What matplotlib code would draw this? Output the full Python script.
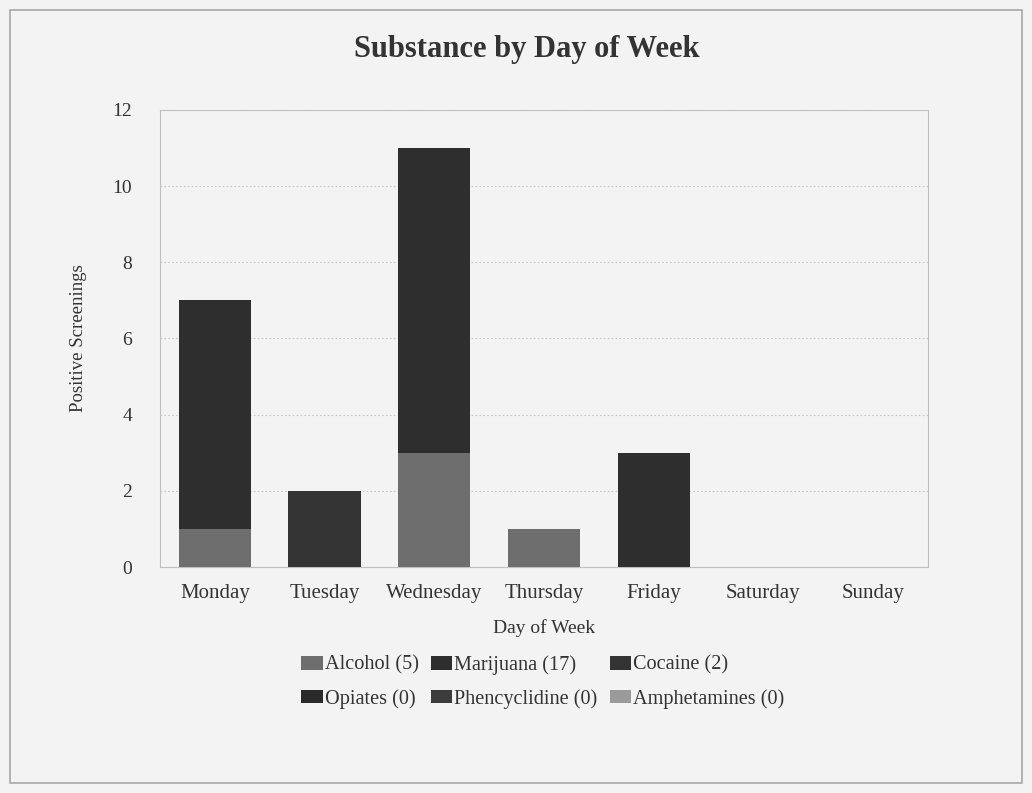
import matplotlib
matplotlib.use("Agg")
import matplotlib.pyplot as plt
from matplotlib.patches import Rectangle
import numpy as np

days = ["Monday", "Tuesday", "Wednesday", "Thursday", "Friday", "Saturday", "Sunday"]
series_names = ["Alcohol (5)", "Marijuana (17)", "Cocaine (2)",
                "Opiates (0)", "Phencyclidine (0)", "Amphetamines (0)"]
alcohol = [1, 0, 3, 1, 0, 0, 0]
marijuana = [6, 0, 8, 0, 3, 0, 0]
cocaine = [0, 2, 0, 0, 0, 0, 0]
opiates = [0, 0, 0, 0, 0, 0, 0]
phencyclidine = [0, 0, 0, 0, 0, 0, 0]
amphetamines = [0, 0, 0, 0, 0, 0, 0]
colors = ["#6e6e6e", "#2e2e2e", "#333333", "#2a2a2a", "#3c3c3c", "#9a9a9a"]
yticks = [0, 2, 4, 6, 8, 10, 12]

plt.rcParams['font.family'] = ['Liberation Serif', 'DejaVu Serif']
bg = "#f3f3f3"
fig = plt.figure(figsize=(10.32, 7.93), dpi=100, facecolor=bg)
fig.patches.append(Rectangle((10/1032, 1-783/793), 1012/1032, 773/793, transform=fig.transFigure,
                             fill=False, edgecolor="#a8a8a8", linewidth=1.2))
ax = fig.add_axes([160/1032, 1-567/793, 768/1032, 457/793])
ax.set_facecolor(bg)

x = np.arange(len(days))
bottom = np.zeros(len(days))
all_series = [alcohol, marijuana, cocaine, opiates, phencyclidine, amphetamines]
handles = []
for name, vals, c in zip(series_names, all_series, colors):
    h = ax.bar(x, vals, bottom=bottom, width=0.66, color=c, label=name, zorder=3)
    handles.append(h)
    bottom += np.array(vals)

ax.set_xlim(-0.5, len(days) - 0.5)
ax.set_ylim(0, 12)
ax.set_yticks(yticks)
ax.set_xticks(x)
ax.set_xticklabels(days, fontsize=15)
ax.tick_params(axis='y', labelsize=14)
ax.tick_params(length=0, colors="#333333")
ax.tick_params(axis='x', pad=12)
ax.tick_params(axis='y', pad=20)
ax.grid(axis='y', color="#c8c8c8", linestyle=(0, (1.5, 2)), linewidth=0.8, zorder=0)
for s in ax.spines.values():
    s.set_color("#c0c0c0")
    s.set_linewidth(0.8)
ax.set_xlabel("Day of Week", fontsize=14, color="#333333", labelpad=12)
ax.set_ylabel("Positive Screenings", fontsize=13.5, color="#333333", labelpad=18)
fig.text(0.51, 1-50/793, "Substance by Day of Week", ha="center", va="center",
         fontsize=22, fontweight="bold", color="#333333")
order = [0, 3, 1, 4, 2, 5]
leg = fig.legend([handles[i] for i in order], [series_names[i] for i in order],
                 loc="center", bbox_to_anchor=(0.526, 1-682/793), ncol=3, frameon=False,
                 fontsize=14.6, handlelength=1.05, handleheight=0.65, handletextpad=0.1,
                 columnspacing=0.6, labelspacing=0.7, labelcolor="#333333")
fig.savefig("out.png", dpi=100, facecolor=bg)
